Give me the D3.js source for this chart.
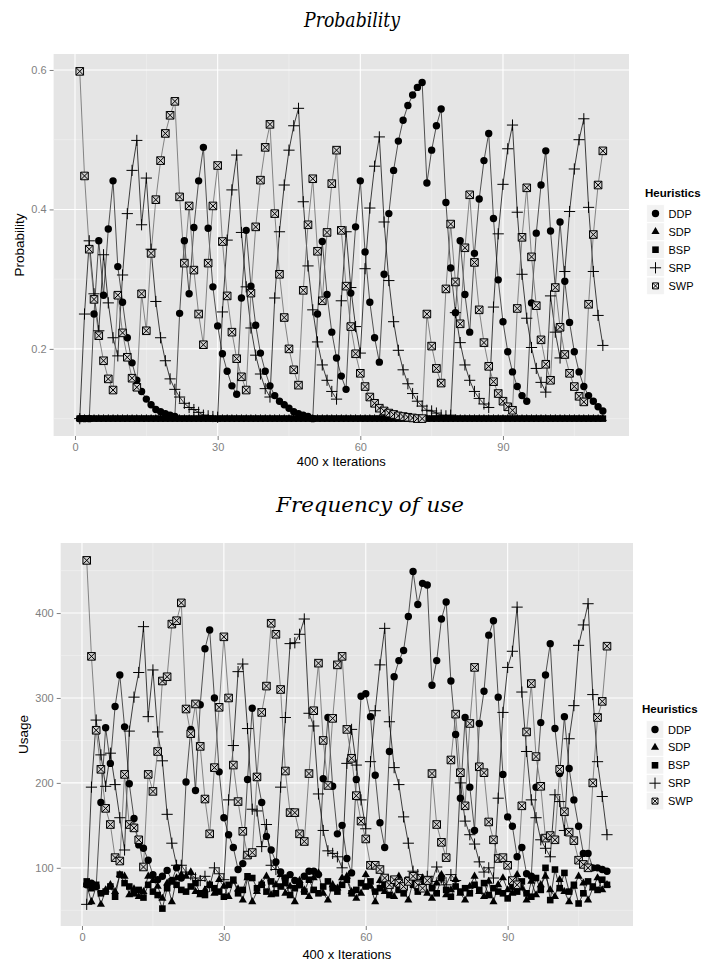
<!DOCTYPE html>
<html><head><meta charset="utf-8">
<script src="https://cdn.jsdelivr.net/npm/d3@7"></script>
<style>body{margin:0;background:#fff}svg{display:block}</style>
</head><body>
<svg id="chart" width="703" height="965"></svg>
<script>
// ---------------- DATA ----------------
const iterations = d3.range(1, 112);
const heuristics = ["DDP", "SDP", "BSP", "SRP", "SWP"];
const xTicks = [0, 30, 60, 90];
const probTicks = [0.2, 0.4, 0.6];
const useTicks = [100, 200, 300, 400];

// Probability panel
const probDDP = [0.1,0.1,0.1,0.25,0.355,0.277,0.372,0.441,0.318,0.267,
 0.216,0.18,0.155,0.139,0.128,0.12,0.113,0.11,0.107,0.105,
 0.103,0.251,0.355,0.279,0.374,0.441,0.489,0.373,0.289,0.233,
 0.193,0.168,0.147,0.135,0.273,0.37,0.29,0.234,0.194,0.168,
 0.147,0.133,0.125,0.12,0.115,0.11,0.107,0.105,0.103,0.1,
 0.25,0.354,0.278,0.224,0.187,0.161,0.142,0.28,0.375,0.441,
 0.339,0.267,0.216,0.181,0.307,0.394,0.456,0.498,0.528,0.549,
 0.564,0.575,0.582,0.438,0.485,0.52,0.544,0.41,0.316,0.252,
 0.355,0.278,0.224,0.337,0.415,0.47,0.509,0.387,0.299,0.239,
 0.196,0.167,0.146,0.133,0.125,0.266,0.366,0.435,0.484,0.369,
 0.288,0.382,0.297,0.238,0.196,0.167,0.146,0.133,0.125,0.117,0.111];
const probSDP = iterations.map(() => 0.1);
const probBSP = iterations.map(() => 0.1);
const probSRP = [0.1,0.25,0.355,0.279,0.226,0.335,0.266,0.216,0.19,0.306,
 0.394,0.456,0.499,0.378,0.445,0.343,0.268,0.216,0.183,0.157,
 0.142,0.131,0.122,0.116,0.113,0.109,0.105,0.104,0.103,0.102,
 0.253,0.356,0.428,0.478,0.367,0.289,0.23,0.191,0.164,0.143,
 0.131,0.273,0.368,0.435,0.485,0.52,0.545,0.411,0.319,0.256,
 0.21,0.177,0.155,0.139,0.128,0.269,0.368,0.288,0.232,0.194,
 0.315,0.402,0.462,0.504,0.382,0.298,0.239,0.198,0.17,0.15,
 0.136,0.125,0.118,0.112,0.111,0.108,0.105,0.104,0.105,0.252,
 0.209,0.177,0.155,0.139,0.129,0.121,0.116,0.26,0.365,0.436,
 0.487,0.521,0.396,0.307,0.244,0.202,0.172,0.152,0.138,0.276,
 0.224,0.187,0.311,0.397,0.458,0.5,0.53,0.403,0.311,0.248,0.205];
const probSWP = [0.598,0.448,0.343,0.271,0.219,0.183,0.157,0.141,0.277,0.223,
 0.188,0.158,0.145,0.279,0.226,0.337,0.414,0.47,0.509,0.535,
 0.555,0.418,0.323,0.405,0.313,0.25,0.206,0.323,0.405,0.463,
 0.354,0.276,0.224,0.186,0.16,0.141,0.28,0.375,0.442,0.489,
 0.522,0.394,0.307,0.245,0.2,0.17,0.148,0.284,0.378,0.444,
 0.34,0.269,0.367,0.437,0.485,0.37,0.29,0.232,0.193,0.165,
 0.146,0.131,0.122,0.115,0.111,0.108,0.106,0.104,0.103,0.102,
 0.101,0.1,0.1,0.25,0.204,0.172,0.151,0.286,0.379,0.296,
 0.236,0.345,0.421,0.324,0.256,0.209,0.175,0.153,0.136,0.125,
 0.117,0.112,0.258,0.36,0.431,0.332,0.262,0.213,0.178,0.155,
 0.288,0.231,0.192,0.165,0.146,0.132,0.124,0.264,0.364,0.435,0.484];

// Frequency-of-use panel
const useDDP = [80,82,78,177,265,223,290,327,266,199,
 158,127,123,109,92,86,90,97,85,100,
 88,201,263,191,292,358,380,300,213,159,
 139,124,98,105,204,288,207,177,137,121,
 107,95,88,92,85,80,90,96,96,92,
 205,277,196,140,150,111,94,204,302,305,
 278,209,153,124,237,325,344,356,396,449,
 410,435,433,315,344,393,413,320,257,182,
 277,195,144,270,308,374,391,301,210,160,
 149,113,124,93,90,195,271,327,364,264,
 211,278,217,180,149,117,117,100,100,98,96];
const useSDP = [80,60,78,57,74,80,72,92,90,68,
 75,66,72,90,85,78,64,82,60,88,
 92,90,95,72,68,74,80,70,86,78,
 66,84,75,62,88,60,72,82,90,68,
 80,92,70,78,60,85,74,66,88,94,
 70,62,80,76,88,90,72,64,70,92,
 78,60,85,72,80,66,90,74,62,84,
 76,88,70,64,82,92,68,74,86,70,
 62,78,90,72,66,84,60,80,88,74,
 70,92,76,62,84,68,80,90,74,66,
 86,72,60,78,90,82,62,76,88,74,80];
const useBSP = [84,76,80,70,72,78,66,92,82,78,
 70,74,65,80,72,68,52,76,84,80,
 74,72,78,82,70,68,80,76,72,66,
 80,86,70,74,90,88,76,80,72,84,
 70,78,82,68,76,80,72,86,74,70,
 78,84,76,72,80,86,70,74,82,78,
 84,72,76,80,68,82,74,70,86,80,
 72,78,84,76,70,88,74,66,78,72,
 76,70,80,74,82,68,76,72,70,64,
 78,72,84,70,66,88,74,100,62,98,
 76,94,72,80,58,70,84,78,74,86,80];
const useSRP = [57,195,274,233,196,235,198,159,121,261,
 301,330,384,278,333,260,226,163,129,103,
 103,95,92,88,85,90,78,100,93,86,
 180,244,331,340,264,169,167,125,151,103,
 98,195,277,364,365,375,393,282,267,187,
 144,120,117,113,100,223,263,221,180,146,
 225,285,339,382,272,218,198,160,129,96,
 92,86,90,84,101,88,80,92,85,200,
 155,139,128,107,95,100,88,182,283,336,
 355,407,307,237,180,159,133,123,113,186,
 178,144,252,291,362,386,411,304,225,184,139];
const useSWP = [462,349,262,216,170,151,112,108,210,151,
 147,133,101,210,190,237,320,325,387,391,
 412,287,258,293,243,181,140,218,289,372,
 300,221,178,143,115,118,207,283,314,388,
 375,310,214,165,165,140,131,211,285,341,
 250,197,276,339,349,263,229,185,155,134,
 103,103,98,88,80,86,82,78,84,90,
 80,76,85,211,151,130,112,227,281,212,
 173,270,336,219,212,154,133,111,112,103,
 85,80,173,260,317,231,196,135,138,133,
 216,166,142,132,109,104,100,200,277,296,361];

// ---------------- SYMBOLS ----------------
const symCircle = {draw(c, s){const r=Math.sqrt(s); c.moveTo(r,0); c.arc(0,0,r,0,2*Math.PI);}};
const symTriangle = {draw(c, s){const r=Math.sqrt(s); c.moveTo(0,-r); c.lineTo(r*0.866,r*0.5); c.lineTo(-r*0.866,r*0.5); c.closePath();}};
const symSquare = {draw(c, s){const r=Math.sqrt(s); c.rect(-r,-r,2*r,2*r);}};
const symPlus = {draw(c, s){const r=Math.sqrt(s); c.moveTo(-r,0); c.lineTo(r,0); c.moveTo(0,-r); c.lineTo(0,r);}};
const symBoxX = {draw(c, s){const r=Math.sqrt(s); c.rect(-r,-r,2*r,2*r); c.moveTo(-r,-r); c.lineTo(r,r); c.moveTo(r,-r); c.lineTo(-r,r);}};

const styles = {
  DDP: {type: symCircle, size: 3.7*3.7, fill: "#000", stroke: "none", sw: 0, line: "#2a2a2a"},
  SDP: {type: symTriangle, size: 4.7*4.7, fill: "#000", stroke: "none", sw: 0, line: "#111"},
  BSP: {type: symSquare, size: 3.3*3.3, fill: "#000", stroke: "none", sw: 0, line: "#111"},
  SRP: {type: symPlus, size: 5.6*5.6, fill: "none", stroke: "#000", sw: 1, line: "#111"},
  SWP: {type: symBoxX, size: 3.8*3.8, fill: "#cfcfcf", stroke: "#000", sw: 1, line: "#6a6a6a"}
};

const svg = d3.select("#chart");
const FONT = "'Liberation Sans', Arial, Helvetica, sans-serif";

function drawPanel(cfg) {
  const g = svg.append("g");
  const xDom = d3.extent(iterations);
  const xPad = (xDom[1]-xDom[0])*0.05;
  const x = d3.scaleLinear().domain([xDom[0]-xPad, xDom[1]+xPad]).range([cfg.left, cfg.right]);
  const allVals = heuristics.flatMap(h => cfg.data[h]);
  const yDom = d3.extent(allVals);
  const yPad = (yDom[1]-yDom[0])*0.05;
  const y = d3.scaleLinear().domain([yDom[0]-yPad, yDom[1]+yPad]).range([cfg.bottom, cfg.top]);

  g.append("rect").attr("x", cfg.left).attr("y", cfg.top)
    .attr("width", cfg.right-cfg.left).attr("height", cfg.bottom-cfg.top).attr("fill", "#E5E5E5");

  const xMinor = [15, 45, 75, 105];
  g.selectAll(null).data(xMinor).enter().append("line")
    .attr("x1", d=>x(d)).attr("x2", d=>x(d)).attr("y1", cfg.top).attr("y2", cfg.bottom)
    .attr("stroke", "#F2F2F2").attr("stroke-width", 0.6);
  g.selectAll(null).data(cfg.yMinor).enter().append("line")
    .attr("y1", d=>y(d)).attr("y2", d=>y(d)).attr("x1", cfg.left).attr("x2", cfg.right)
    .attr("stroke", "#F2F2F2").attr("stroke-width", 0.6);
  g.selectAll(null).data(xTicks).enter().append("line")
    .attr("x1", d=>x(d)).attr("x2", d=>x(d)).attr("y1", cfg.top).attr("y2", cfg.bottom)
    .attr("stroke", "#fff").attr("stroke-width", 1.1);
  g.selectAll(null).data(cfg.yTicks).enter().append("line")
    .attr("y1", d=>y(d)).attr("y2", d=>y(d)).attr("x1", cfg.left).attr("x2", cfg.right)
    .attr("stroke", "#fff").attr("stroke-width", 1.1);

  const xAxis = d3.axisBottom(x).tickValues(xTicks).tickSize(4).tickPadding(3).tickFormat(d3.format("d"));
  const xg = g.append("g").attr("transform", `translate(0,${cfg.bottom})`).call(xAxis);
  const yAxis = d3.axisLeft(y).tickValues(cfg.yTicks).tickSize(4).tickPadding(3).tickFormat(cfg.yFmt);
  const yg = g.append("g").attr("transform", `translate(${cfg.left},0)`).call(yAxis);
  [xg, yg].forEach(a => {
    a.select(".domain").remove();
    a.selectAll(".tick line").attr("stroke", "#7F7F7F");
    a.selectAll(".tick text").attr("fill", "#7F7F7F").style("font-family", FONT).style("font-size", "11px");
  });

  const line = d3.line().x((d,i)=>x(iterations[i])).y(d=>y(d));
  heuristics.forEach(h => {
    g.append("path").datum(cfg.data[h]).attr("d", line)
      .attr("fill", "none").attr("stroke", styles[h].line).attr("stroke-width", 0.8);
  });
  heuristics.forEach(h => {
    const st = styles[h];
    const sym = d3.symbol().type(st.type).size(st.size);
    g.selectAll(null).data(cfg.data[h]).enter().append("path")
      .attr("d", sym)
      .attr("transform", (d,i)=>`translate(${x(iterations[i])},${y(d)})`)
      .attr("fill", st.fill).attr("stroke", st.stroke).attr("stroke-width", st.sw);
  });

  g.append("text").attr("x", (cfg.left+cfg.right)/2).attr("y", cfg.xTitleY)
    .attr("text-anchor", "middle").style("font-family", FONT).style("font-size", "13px")
    .text("400 x Iterations");
  g.append("text").attr("transform", `translate(${cfg.yTitleX},${(cfg.top+cfg.bottom)/2}) rotate(-90)`)
    .attr("text-anchor", "middle").style("font-family", FONT).style("font-size", "13.5px")
    .text(cfg.yTitle);

  g.append("text").attr("x", cfg.titleX).attr("y", cfg.titleY).attr("text-anchor", "middle")
    .style("font-family", "'DejaVu Serif', 'Liberation Serif', serif").style("font-style", "italic")
    .style("font-size", "20px").attr("textLength", cfg.titleLen).attr("lengthAdjust", "spacingAndGlyphs")
    .text(cfg.title);

  const lg = g.append("g");
  lg.append("text").attr("x", cfg.legX).attr("y", cfg.legY)
    .style("font-family", FONT).style("font-size", "11.5px").style("font-weight", "bold").text("Heuristics");
  heuristics.forEach((h, i) => {
    const cy = cfg.legY + 16.5 + i*cfg.legStep;
    lg.append("rect").attr("x", cfg.keyX-8.8).attr("y", cy-8.8).attr("width", 17.6).attr("height", 17.6)
      .attr("fill", "#F2F2F2").attr("stroke", "#fff").attr("stroke-width", 0.8);
    const st = styles[h];
    lg.append("path").attr("d", d3.symbol().type(st.type).size(h==="SWP"?3*3:st.size))
      .attr("transform", `translate(${cfg.keyX},${cy})`)
      .attr("fill", h==="SWP" ? "none" : st.fill).attr("stroke", st.stroke).attr("stroke-width", st.sw);
    lg.append("text").attr("x", cfg.keyX+13).attr("y", cy+4)
      .style("font-family", FONT).style("font-size", "11px").text(h);
  });
}

drawPanel({
  data: {DDP: probDDP, SDP: probSDP, BSP: probBSP, SRP: probSRP, SWP: probSWP},
  left: 53.6, right: 629, top: 54, bottom: 436,
  yTicks: probTicks, yMinor: [0.1, 0.3, 0.5], yFmt: d3.format(".1f"),
  xTitleY: 466, yTitleX: 24, yTitle: "Probability",
  title: "Probability", titleX: 352, titleY: 27, titleLen: 96,
  legX: 645, legY: 197, legStep: 18.1, keyX: 655.5
});
drawPanel({
  data: {DDP: useDDP, SDP: useSDP, BSP: useBSP, SRP: useSRP, SWP: useSWP},
  left: 60.7, right: 633, top: 543, bottom: 926,
  yTicks: useTicks, yMinor: [50, 150, 250, 350, 450], yFmt: d3.format("d"),
  xTitleY: 959, yTitleX: 28, yTitle: "Usage",
  title: "Frequency of use", titleX: 370, titleY: 512, titleLen: 188,
  legX: 642, legY: 713, legStep: 17.9, keyX: 655
});
</script>
</body></html>
